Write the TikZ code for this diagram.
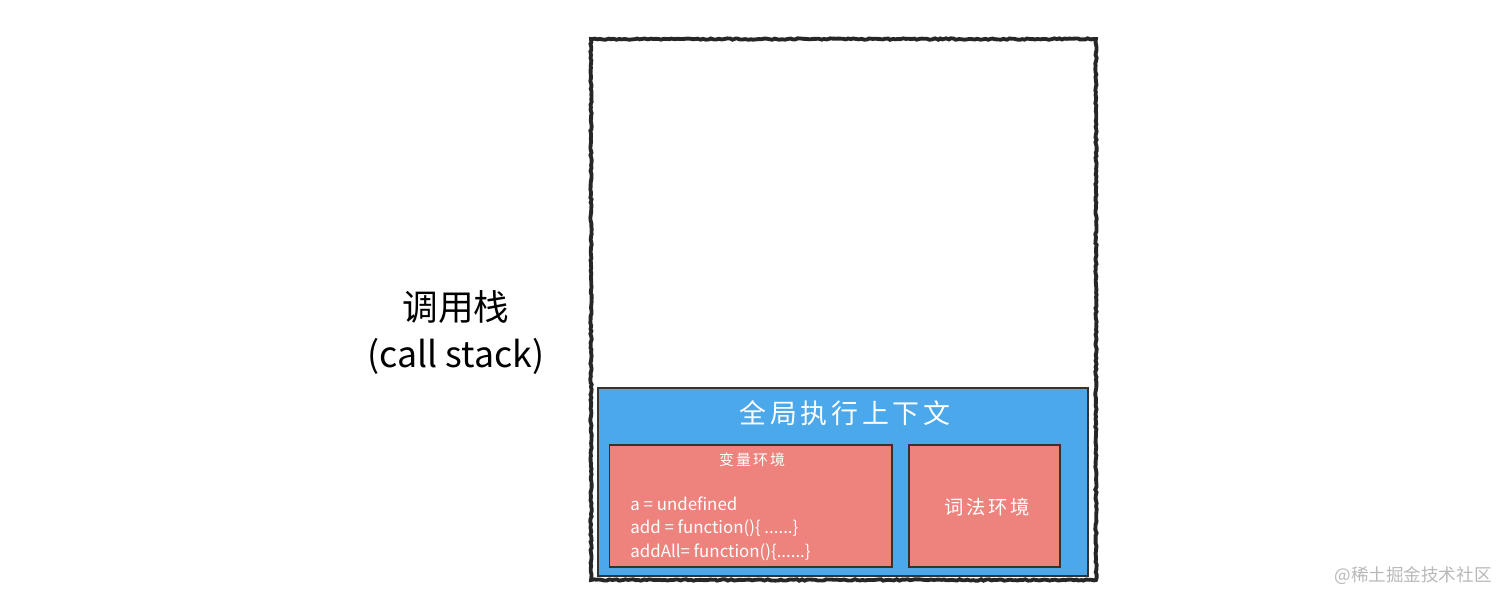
\documentclass[tikz,border=0pt]{standalone}
\usepackage{fontspec}
\setmainfont{Noto Sans CJK SC}
\newfontfamily\cjkwide[LetterSpace=14]{Noto Sans CJK SC}
\usetikzlibrary{positioning,decorations.pathmorphing}
\definecolor{ctxblue}{HTML}{4BA8EA}
\definecolor{envred}{HTML}{EE837D}

\begin{document}
\begin{tikzpicture}[
    x=0.02cm, y=-0.02cm,
    stackbox/.style={draw=black!85, line width=2.2pt, minimum width=10.1cm, minimum height=10.82cm, inner sep=0pt,
        decorate, decoration={random steps, segment length=1.5pt, amplitude=0.4pt}},
    ctxbox/.style={draw=black!80, thick, fill=ctxblue, minimum width=9.8cm, minimum height=3.76cm, inner sep=0pt},
    envbox/.style={draw=black!80, semithick, fill=envred, inner sep=0pt, minimum height=2.44cm},
    wlbl/.style={text=white, inner sep=0pt},
    codeln/.style={text=white, inner sep=0pt, anchor=west, font=\fontsize{9.6}{11}\selectfont},
    side/.style={inner sep=0pt, font=\fontsize{20.3}{23}\selectfont}
]
\useasboundingbox (0,0) rectangle (1512,603);

% --- Call stack frame ---
\node[stackbox] (stack) at (843.5, 309.5) {};
\node[side] (stackcn) at (456, 307) {调用栈};
\node[side] (stacken) at (456, 356) {(call stack)};

% --- Global execution context ---
\node[ctxbox] (gctx) at (843, 482) {};
\node[wlbl, font=\cjkwide\fontsize{15.3}{18}\selectfont] (gtitle) at (845, 413) {全局执行上下文};

% --- Variable environment ---
\node[envbox, minimum width=5.66cm] (varenv) at (750.5, 506) {};
\node[wlbl, font=\cjkwide\fontsize{8.5}{10}\selectfont] (vtitle) at (752, 460) {变量环境};
\node[codeln] (va) at (630, 504) {a = undefined};
\node[codeln] (vadd) at (630, 528) {add = function()\{ ......\}};
\node[codeln] (vall) at (630, 552) {addAll= function()\{......\}};

% --- Lexical environment ---
\node[envbox, minimum width=3.02cm] (lexenv) at (984.5, 506) {};
\node[wlbl, font=\cjkwide\fontsize{11}{13}\selectfont] (ltitle) at (987, 507) {词法环境};

% watermark
\node[text=black!28, inner sep=0pt, font=\fontsize{10}{12}\selectfont] (mark) at (1413, 576) {@稀土掘金技术社区};
\end{tikzpicture}
\end{document}
